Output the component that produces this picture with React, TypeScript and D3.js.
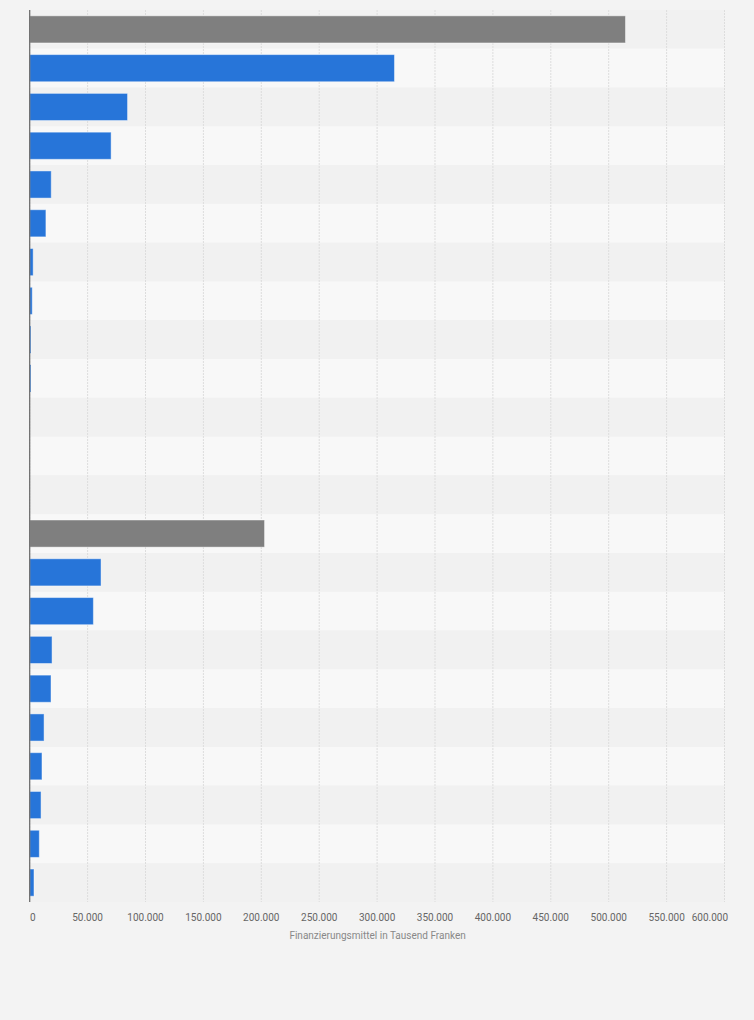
import React from "react";
import * as d3 from "d3";

const categories: string[] = [
  "r0", "r1", "r2", "r3", "r4", "r5", "r6", "r7", "r8", "r9", "r10", "r11",
  "r12", "r13", "r14", "r15", "r16", "r17", "r18", "r19", "r20", "r21", "r22",
];
const values: number[] = [
  514500, 315000, 84500, 70300, 18600, 14000, 3000, 2200, 1100, 1100, 0, 0,
  0, 202800, 61600, 55000, 19300, 18400, 12400, 10600, 9800, 8300, 3700,
];
const isTotal: boolean[] = [
  true, false, false, false, false, false, false, false, false, false, false, false,
  false, true, false, false, false, false, false, false, false, false, false,
];
const xTicks: number[] = [0, 50000, 100000, 150000, 200000, 250000, 300000, 350000, 400000, 450000, 500000, 550000, 600000];
const xTitle = "Finanzierungsmittel in Tausend Franken";

const W = 754;
const H = 1020;
const left = 29.7;
const right = 724.5;
const top = 10;
const bottom = 902;

const fmt = (v: number) => d3.format(",")(v).replace(/,/g, ".");

export default function App() {
  const x = d3.scaleLinear().domain([0, 600000]).range([left, right]);
  const y = d3
    .scaleBand<string>()
    .domain(categories)
    .range([top, bottom])
    .paddingInner(0.3)
    .paddingOuter(0.15);
  const step = y.step();

  return (
    <svg
      width={W}
      height={H}
      style={{ position: "absolute", left: 0, top: 0, fontFamily: "Roboto, Arial, sans-serif" }}
    >
      <rect x={0} y={0} width={W} height={H} fill="#f3f3f3" />
      {categories.map((c, i) => (
        <rect
          key={"band" + c}
          x={left}
          y={top + i * step}
          width={right - left}
          height={step}
          fill={i % 2 === 0 ? "#f1f1f1" : "#f8f8f8"}
        />
      ))}
      {xTicks.map((t) => (
        <line
          key={"g" + t}
          x1={x(t)}
          x2={x(t)}
          y1={top}
          y2={bottom}
          stroke="#dddddd"
          strokeWidth={1}
          strokeDasharray="2,1"
        />
      ))}
      {categories.map((c, i) =>
        values[i] > 0 ? (
          <rect
            key={"bar" + c}
            x={x(0)}
            y={y(c)!}
            width={x(values[i]) - x(0)}
            height={y.bandwidth()}
            fill={isTotal[i] ? "#7f7f7f" : "#2775d9"}
            stroke="rgba(255,255,255,0.45)"
            strokeWidth={1}
          />
        ) : null
      )}
      <line x1={left} x2={left} y1={top} y2={bottom} stroke="#666666" strokeWidth={1.2} />
      {xTicks.map((t, i) => {
        const last = i === xTicks.length - 1;
        const xx = i === 0 ? x(t) + 3 : last ? x(t) + 3.5 : x(t);
        return (
          <text
            key={"t" + t}
            x={xx}
            y={920.5}
            fontSize={10}
            fill="#666666"
            textAnchor={last ? "end" : "middle"}
          >
            {fmt(t)}
          </text>
        );
      })}
      <text
        x={(left + right) / 2 + 0.5}
        y={938.5}
        fontSize={10}
        fill="#888888"
        textAnchor="middle"
      >
        {xTitle}
      </text>
    </svg>
  );
}
